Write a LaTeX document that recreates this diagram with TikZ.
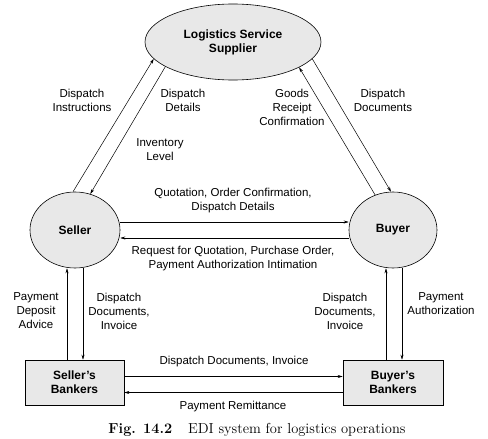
\documentclass[tikz,border=0pt]{standalone}
\usepackage{fontspec}
\setsansfont{Liberation Sans}
\usetikzlibrary{arrows.meta,positioning,shapes.geometric,calc}

\tikzset{
  party/.style={ellipse, draw, fill=gray!18, line width=0.6pt, inner sep=0pt,
    font=\sffamily\bfseries\fontsize{12}{14}\selectfont, align=center},
  bank/.style={rectangle, draw, fill=gray!18, line width=0.6pt, inner sep=0pt,
    minimum width=99pt, minimum height=45pt,
    font=\sffamily\bfseries\fontsize{12}{14}\selectfont, align=center},
  lbl/.style={font=\sffamily\fontsize{11.5}{14}\selectfont, align=center, inner sep=0pt},
  flow/.style={line width=0.5pt, -{Stealth[length=5pt,width=3pt]}}
}

\begin{document}
\begin{tikzpicture}[x=1pt, y=-1pt]
        \useasboundingbox (0,0) rectangle (488,439);
        % Partes principais
        \node[party, minimum width=176pt, minimum height=76pt] (lss) at (233,42) {Logistics Service\\Supplier};
        \node[party, minimum width=90pt, minimum height=76pt] (seller) at (75,230) {Seller};
        \node[party, minimum width=88pt, minimum height=76pt] (buyer) at (393,230) {Buyer};
        % Bancos
        \node[bank] (sbank) at (74.5,382.5) {Seller's\\Bankers};
        \node[bank, minimum width=100pt] (bbank) at (393,382.5) {Buyer's\\Bankers};
        % Seller <-> Logistics Service Supplier
        \draw[flow] (seller.93) -- (lss.192);
        \draw[flow] (lss.200) -- (seller.67);
        % Buyer <-> Logistics Service Supplier
        \draw[flow] (buyer.117) -- (lss.339);
        \draw[flow] (lss.348) -- (buyer.93);
        % Seller <-> Buyer
        \draw[flow] ([yshift=8pt]seller.east) -- ([yshift=8pt]buyer.west);
        \draw[flow] ([yshift=-8pt]buyer.west) -- ([yshift=-8pt]seller.east);
        % Parte <-> banco
        \draw[flow] ([xshift=-8pt]seller.south |- sbank.north) -- ([xshift=-8pt]seller.south);
        \draw[flow] ([xshift=8pt]seller.south) -- ([xshift=8pt]seller.south |- sbank.north);
        \draw[flow] ([xshift=-7pt]buyer.south |- bbank.north) -- ([xshift=-7pt]buyer.south);
        \draw[flow] ([xshift=9pt]buyer.south) -- ([xshift=9pt]buyer.south |- bbank.north);
        % Bancos entre si
        \draw[flow] ([yshift=6pt]sbank.east) -- ([yshift=6pt]bbank.west);
        \draw[flow] ([yshift=-10pt]bbank.west) -- ([yshift=-10pt]sbank.east);
        % Rotulos dos fluxos
        \node[lbl] (l-inst) at (82,100) {Dispatch\\Instructions};
        \node[lbl] (l-sdet) at (183,100) {Dispatch\\Details};
        \node[lbl] (l-inv) at (160,150) {Inventory\\Level};
        \node[lbl] (l-grc) at (292,107) {Goods\\Receipt\\Confirmation};
        \node[lbl] (l-bdoc) at (383,100) {Dispatch\\Documents};
        \node[lbl] (l-quot) at (233,201) {Quotation, Order Confirmation,\\Dispatch Details};
        \node[lbl] (l-req) at (233,259) {Request for Quotation, Purchase Order,\\Payment Authorization Intimation};
        \node[lbl] (l-pda) at (36,311) {Payment\\Deposit\\Advice};
        \node[lbl] (l-sdi) at (119,311) {Dispatch\\Documents,\\Invoice};
        \node[lbl] (l-bdi) at (345,311) {Dispatch\\Documents,\\Invoice};
        \node[lbl] (l-pa) at (441,304) {Payment\\Authorization};
        \node[lbl] (l-bank) at (234,362) {Dispatch Documents, Invoice};
        \node[lbl] (l-rem) at (233,407) {Payment Remittance};
        % Legenda
        \node[font=\fontsize{14.5}{16}\selectfont, inner sep=0pt] (caption) at (257,430) {\textbf{Fig. 14.2}\hspace{1.1em}EDI system for logistics operations};
    \end{tikzpicture}
\end{document}
